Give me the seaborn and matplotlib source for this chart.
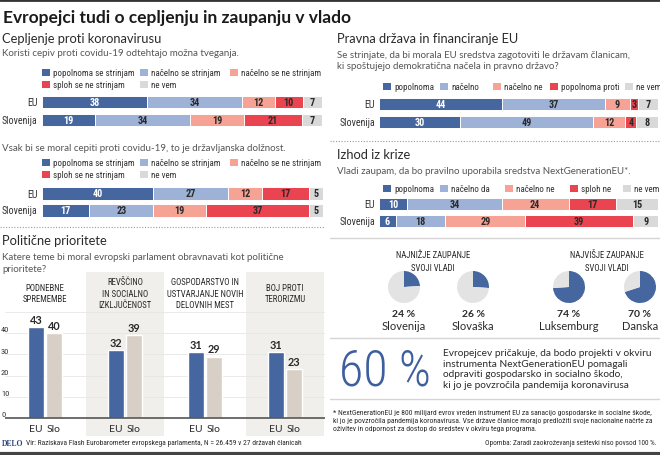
import numpy as np
import pandas as pd
import matplotlib
matplotlib.use("Agg")
import matplotlib.pyplot as plt
from matplotlib.patches import Rectangle
from matplotlib.lines import Line2D
from matplotlib import font_manager as fm
import seaborn as sns

# ---------------- data ----------------
title = "Evropejci tudi o cepljenju in zaupanju v vlado"
rows = ["EU", "Slovenija"]

vacc_title = "Cepljenje proti koronavirusu"
vacc_q1 = "Koristi cepiv proti covidu-19 odtehtajo možna tveganja."
vacc_q2 = "Vsak bi se moral cepiti proti covidu-19, to je državljanska dolžnost."
vacc_legend = ["popolnoma se strinjam", "načelno se strinjam", "načelno se ne strinjam",
               "sploh se ne strinjam", "ne vem"]
vacc_benefit_eu = [38, 34, 12, 10, 7]
vacc_benefit_si = [19, 34, 19, 21, 7]
vacc_duty_eu = [40, 27, 12, 17, 5]
vacc_duty_si = [17, 23, 19, 37, 5]

rule_title = "Pravna država in financiranje EU"
rule_q = "Se strinjate, da bi morala EU sredstva zagotoviti le državam članicam,\nki spoštujejo demokratična načela in pravno državo?"
rule_legend = ["popolnoma", "načelno", "načelno ne", "popolnoma proti", "ne vem"]
rule_eu = [44, 37, 9, 3, 7]
rule_si = [30, 49, 12, 4, 8]

crisis_title = "Izhod iz krize"
crisis_q = "Vladi zaupam, da bo pravilno uporabila sredstva NextGenerationEU*."
crisis_legend = ["popolnoma", "načelno da", "načelno ne", "sploh ne", "ne vem"]
crisis_eu = [10, 34, 24, 17, 15]
crisis_si = [6, 18, 29, 39, 9]

prio_title = "Politične prioritete"
prio_q = "Katere teme bi moral evropski parlament obravnavati kot politične\nprioritete?"
prio_topics = ["PODNEBNE\nSPREMEMBE", "REVŠČINO\nIN SOCIALNO\nIZKLJUČENOST",
               "GOSPODARSTVO IN\nUSTVARJANJE NOVIH\nDELOVNIH MEST", "BOJ PROTI\nTERORIZMU"]
prio_groups = ["EU", "Slo"]
prio_eu = [43, 32, 31, 31]
prio_si = [40, 39, 29, 23]
prio_ticks = [0, 10, 20, 30, 40]

trust_low_title = "NAJNIŽJE ZAUPANJE\nSVOJI VLADI"
trust_high_title = "NAJVIŠJE ZAUPANJE\nSVOJI VLADI"
trust_countries = ["Slovenija", "Slovaška", "Luksemburg", "Danska"]
trust_values = [24, 26, 74, 70]

big_value = "60 %"
big_text = ("Evropejcev pričakuje, da bodo projekti v okviru\ninstrumenta NextGenerationEU pomagali\n"
            "odpraviti gospodarsko in socialno škodo,\nki jo je povzročila pandemija koronavirusa")
footnote = ("* NextGenerationEU je 800 milijard evrov vreden instrument EU za sanacijo gospodarske in socialne škode,\n"
            "ki jo je povzročila pandemija koronavirusa. Vse države članice morajo predložiti svoje nacionalne načrte za\n"
            "oživitev in odpornost za dostop do sredstev v okviru tega programa.")
note = "Opomba: Zaradi zaokroževanja seštevki niso povsod 100 %."
brand = "DELO"
source = "Vir: Raziskava Flash Eurobarometer evropskega parlamenta, N = 26.459 v 27 državah članicah"

# ---------------- style ----------------
sns.set_theme(style="white")
avail = {f.name for f in fm.fontManager.ttflist}


def pick(*names):
    for n in names:
        if n in avail:
            return n
    return "DejaVu Sans"


MAIN = pick("Lato", "Noto Sans", "Open Sans")
NARROW = pick("Roboto Condensed", "Liberation Sans Narrow", "Open Sans Condensed", "Roboto")
SERIF = pick("Liberation Serif", "DejaVu Serif")
plt.rcParams["font.family"] = [MAIN, "DejaVu Sans"]

SEG = ["#46669f", "#9eb1d6", "#f6a395", "#ea4450", "#d9d9d9"]
BLUE = "#46669f"
BEIGE = "#d8d0c6"
TXT = "#2a2a2a"
GREY_TXT = "#555555"

W, H = 660, 456
fig = plt.figure(figsize=(W / 100, H / 100), dpi=100)
fig.patch.set_facecolor("white")


def fx(x):
    return x / W


def fy(y):
    return 1 - y / H


def ftext(x, y, s, **kw):
    kw.setdefault("color", TXT)
    return fig.text(fx(x), fy(y), s, **kw)


def add_ax(x0, y0, x1, y1):
    return fig.add_axes([fx(x0), fy(y1), (x1 - x0) / W, (y1 - y0) / H])


def hline(x0, x1, y, **kw):
    fig.add_artist(Line2D([fx(x0), fx(x1)], [fy(y), fy(y)], transform=fig.transFigure, **kw))


def legend(items, positions):
    for (x, y), lab, c in zip(positions, items, SEG):
        fig.add_artist(Rectangle((fx(x), fy(y + 3.5)), 8 / W, 7 / H, transform=fig.transFigure,
                                 facecolor=c, lw=0))
        ftext(x + 11, y, lab, ha="left", va="center", fontsize=6.5, family=NARROW, color="#333333")


def stacked(x0, x1, y_rows, eu_vals, si_vals, label_right):
    sp = y_rows[1] - y_rows[0]
    ax = add_ax(x0, y_rows[0] - sp / 2, x1, y_rows[1] + sp / 2)
    vals = np.array([eu_vals, si_vals], dtype=float)
    shares = vals / vals.sum(axis=1, keepdims=True) * 100
    cum = shares.cumsum(axis=1)
    for k in range(len(SEG) - 1, -1, -1):
        df = pd.DataFrame({"row": rows, "end": cum[:, k]})
        sns.barplot(data=df, x="end", y="row", orient="h", color=SEG[k], saturation=1,
                    width=12.6 / sp, edgecolor="white", linewidth=0.7, errorbar=None, ax=ax)
    for r in range(2):
        for k in range(len(SEG)):
            ax.text(cum[r, k] - shares[r, k] / 2, r, str(int(vals[r, k])), ha="center", va="center",
                    fontsize=7.3, fontweight="bold", family=NARROW,
                    color="white" if k == 0 else TXT)
    ax.set_xlim(0, 100)
    ax.set_ylim(1.5, -0.5)
    ax.axis("off")
    for r, name in enumerate(rows):
        ftext(label_right, y_rows[r], name, ha="right", va="center", fontsize=7.2, family=NARROW,
              color="#333333")


# ---------------- frame ----------------
hline(0, W, 1, color="#333333", lw=2)
hline(0, W, 454.5, color="#444444", lw=3)
ftext(3, 18, title, ha="left", va="center", fontsize=12.5, fontweight="bold", color="#1a1a1a")

# ---------------- left: vaccination ----------------
ftext(2, 39, vacc_title, ha="left", va="center", fontsize=9.3)
ftext(2, 54, vacc_q1, ha="left", va="center", fontsize=7, color=GREY_TXT)
legend(vacc_legend, [(42, 73), (140, 73), (230, 73), (42, 85), (140, 85)])
stacked(42, 322, (103, 121), vacc_benefit_eu, vacc_benefit_si, 37.5)

ftext(2, 149, vacc_q2, ha="left", va="center", fontsize=7, color=GREY_TXT)
legend(vacc_legend, [(42, 163.5), (140, 163.5), (230, 163.5), (42, 175), (140, 175)])
stacked(42, 323, (194.5, 211.5), vacc_duty_eu, vacc_duty_si, 37.5)

hline(0, 324, 227.5, color="#9a9a9a", lw=0.8, linestyle=(0, (1, 1.5)))

# ---------------- left: priorities ----------------
ftext(2, 241, prio_title, ha="left", va="center", fontsize=9.3)
ftext(2, 263.5, prio_q, ha="left", va="center", fontsize=7, color=GREY_TXT, linespacing=1.3)

ax = add_ax(5, 273, 325, 437)
for i in (1, 3):
    ax.axvspan(i - 0.4875, i + 0.4875, color="#f1efeb", lw=0, zorder=0)
for v in prio_ticks[1:] + [50]:
    ax.axhline(v, color="#e6e6e6", lw=0.6, zorder=0.5)
dfp = pd.DataFrame({
    "topic": prio_topics * 2,
    "group": [prio_groups[0]] * 4 + [prio_groups[1]] * 4,
    "value": prio_eu + prio_si,
})
sns.barplot(data=dfp, x="topic", y="value", hue="group", palette=[BLUE, BEIGE], saturation=1,
            width=0.45, gap=0.11, errorbar=None, legend=False, ax=ax, zorder=2)
ax.axhline(0, color="#555555", lw=1.2, zorder=3)
ax.set_xlim(-0.5, 3.5)
ax.set_ylim(-8.3, 68.7)
ax.axis("off")
for cont in ax.containers:
    ax.bar_label(cont, padding=1.5, fontsize=7.8, fontweight="bold", color=TXT)
for cont, g in zip(ax.containers, prio_groups):
    for bar in cont:
        ax.text(bar.get_x() + bar.get_width() / 2, -4.8, g, ha="center", va="center", fontsize=7.5,
                color=TXT)
for i, t in enumerate(prio_topics):
    ax.text(i, 58.8, t, ha="center", va="center", fontsize=6.3, family=NARROW, color=TXT,
            linespacing=1.3)
for v in prio_ticks:
    ax.text(-0.0125, v + 0.4, str(v), transform=ax.get_yaxis_transform(), ha="left", va="bottom",
            fontsize=6, family=NARROW, color="#333333")

# ---------------- right: rule of law ----------------
ftext(337, 39, rule_title, ha="left", va="center", fontsize=9.3)
ftext(337, 61, rule_q, ha="left", va="center", fontsize=7, color=GREY_TXT, linespacing=1.3)
legend(rule_legend, [(383, 87), (440, 87), (493, 87), (550, 87), (625, 87)])
stacked(379, 658, (105, 123), rule_eu, rule_si, 375)

hline(330, W, 141.7, color="#9a9a9a", lw=0.8, linestyle=(0, (1, 1.5)))

# ---------------- right: crisis ----------------
ftext(337, 155, crisis_title, ha="left", va="center", fontsize=9.3)
ftext(337, 171.5, crisis_q, ha="left", va="center", fontsize=7, color=GREY_TXT)
legend(crisis_legend, [(383, 189), (440, 189), (505, 189), (570, 189), (623, 189)])
stacked(379, 658, (205, 222), crisis_eu, crisis_si, 375)

hline(330, W, 238.5, color="#d5d5d5", lw=1)

# ---------------- right: trust pies ----------------
ftext(433, 262, trust_low_title, ha="center", va="center", fontsize=6.2, family=NARROW,
      linespacing=1.45)
ftext(607, 262, trust_high_title, ha="center", va="center", fontsize=6.2, family=NARROW,
      linespacing=1.45)
for name, v, cx in zip(trust_countries, trust_values, (404, 473, 569, 640)):
    pax = add_ax(cx - 20, 288 - 20, cx + 20, 288 + 20)
    pax.pie([v, 100 - v], colors=[BLUE, "#e3e3e3"], startangle=90, counterclock=False,
            wedgeprops=dict(linewidth=0))
    pax.set_xlim(-1.25, 1.25)
    pax.set_ylim(-1.25, 1.25)
    ftext(cx, 315, f"{v} %", ha="center", va="center", fontsize=7.5, fontweight="bold")
    ftext(cx, 326.5, name, ha="center", va="center", fontsize=8)

hline(330, W, 339, color="#d5d5d5", lw=1)

# ---------------- right: 60 % ----------------
ftext(339, 372, big_value, ha="left", va="center", fontsize=36, family=NARROW, fontweight="light",
      color="#3d5f9e")
ftext(443, 369.5, big_text, ha="left", va="center", fontsize=7.3, linespacing=1.25)

hline(330, W, 400, color="#d5d5d5", lw=1)
ftext(333, 421, footnote, ha="left", va="center", fontsize=5.5, family=NARROW, linespacing=1.35)
ftext(657, 444, note, ha="right", va="center", fontsize=5.2, family=NARROW)

# ---------------- bottom ----------------
ftext(2, 444, brand, ha="left", va="center", fontsize=5.5, fontweight="bold", family=SERIF,
      color="#27457f")
ftext(26, 444, source, ha="left", va="center", fontsize=5.4, family=NARROW)

fig.savefig("out.png", dpi=100, facecolor="white")
